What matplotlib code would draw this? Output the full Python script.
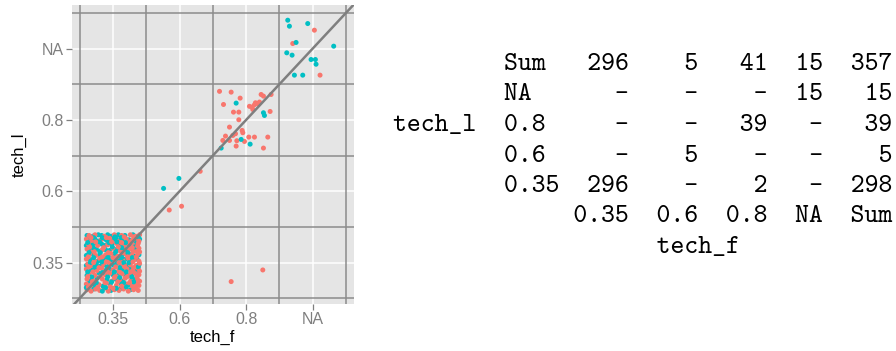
import numpy as np
import matplotlib
matplotlib.use("Agg")
import matplotlib.pyplot as plt

# categories on both axes
levels = ["0.35", "0.6", "0.8", "NA"]

# jittered points, category units (1 = 0.35, 2 = 0.6, 3 = 0.8, 4 = NA)
box_salmon = [
    (0.61, 0.62), (0.67, 0.60), (0.74, 0.63), (0.80, 0.61), (0.87, 0.64), (0.93, 0.60),
    (1.02, 0.62), (1.09, 0.61), (1.16, 0.63), (1.23, 0.60), (1.31, 0.62), (1.38, 0.61),
    (0.60, 0.70), (0.66, 0.68), (0.79, 0.69), (0.90, 0.71), (1.05, 0.68), (1.20, 0.70),
    (1.29, 0.67), (1.35, 0.70), (1.39, 0.68),
    (0.61, 0.77), (0.70, 0.75), (0.84, 0.77), (0.98, 0.74), (1.10, 0.76), (1.18, 0.78),
    (1.27, 0.75), (1.37, 0.76),
    (0.64, 0.84), (0.73, 0.82), (0.88, 0.83), (0.95, 0.85), (1.04, 0.81), (1.14, 0.84),
    (1.24, 0.82), (1.33, 0.85), (1.39, 0.83),
    (0.60, 0.91), (0.76, 0.89), (0.83, 0.92), (1.00, 0.90), (1.08, 0.88), (1.21, 0.91),
    (1.30, 0.89), (1.38, 0.92),
    (0.62, 0.98), (0.69, 0.96), (0.86, 0.97), (0.94, 0.99), (1.12, 0.95), (1.17, 0.98),
    (1.26, 0.97), (1.35, 0.96),
    (0.60, 1.05), (0.72, 1.03), (0.80, 1.06), (0.91, 1.02), (1.03, 1.05), (1.15, 1.03),
    (1.23, 1.06), (1.32, 1.04), (1.39, 1.02),
    (0.65, 1.12), (0.74, 1.10), (0.89, 1.11), (0.97, 1.13), (1.07, 1.09), (1.19, 1.12),
    (1.28, 1.10), (1.37, 1.12),
    (0.61, 1.19), (0.70, 1.17), (0.84, 1.18), (1.00, 1.20), (1.11, 1.16), (1.25, 1.19),
    (1.34, 1.17), (1.39, 1.20),
    (0.63, 1.26), (0.77, 1.24), (0.92, 1.25), (1.05, 1.27), (1.16, 1.23), (1.22, 1.26),
    (1.31, 1.24), (1.38, 1.27),
    (0.60, 1.33), (0.68, 1.31), (0.82, 1.32), (0.95, 1.34), (1.09, 1.30), (1.20, 1.33),
    (1.29, 1.31), (1.36, 1.34),
    (0.64, 1.38), (0.73, 1.39), (0.87, 1.37), (1.02, 1.39), (1.13, 1.38), (1.26, 1.39),
    (1.34, 1.37), (1.40, 1.39),
    (0.63, 0.66), (0.77, 0.65), (0.96, 0.66), (1.13, 0.67), (1.34, 0.65), (1.00, 0.64),
    (0.69, 0.73), (0.88, 0.72), (1.07, 0.73), (1.25, 0.72), (1.40, 0.74),
    (0.62, 0.80), (0.81, 0.80), (1.02, 0.79), (1.21, 0.80), (1.36, 0.80),
    (0.70, 0.87), (0.92, 0.87), (1.11, 0.86), (1.27, 0.87), (1.40, 0.88),
    (0.64, 0.94), (0.79, 0.93), (1.04, 0.94), (1.18, 0.94), (1.31, 0.93),
    (0.71, 1.00), (0.90, 1.01), (1.09, 1.00), (1.30, 1.01), (1.40, 0.99),
    (0.63, 1.08), (0.84, 1.08), (1.00, 1.07), (1.22, 1.08), (1.35, 1.08),
    (0.72, 1.15), (0.93, 1.14), (1.15, 1.14), (1.30, 1.15), (1.40, 1.15),
    (0.65, 1.22), (0.86, 1.21), (1.08, 1.22), (1.29, 1.21), (1.37, 1.23),
    (0.74, 1.29), (0.98, 1.29), (1.13, 1.28), (1.26, 1.29), (1.39, 1.30),
    (0.67, 1.35), (0.90, 1.35), (1.17, 1.36), (1.31, 1.36),
]
box_teal = [
    (0.71, 0.63), (0.97, 0.61), (1.12, 0.64), (1.26, 0.62), (0.84, 0.60),
    (0.63, 0.70), (0.72, 0.69), (0.85, 0.67), (0.96, 0.70), (1.12, 0.71), (1.24, 0.69),
    (0.65, 0.74), (0.76, 0.78), (0.91, 0.76), (1.04, 0.77), (1.14, 0.74), (1.32, 0.77),
    (0.61, 0.82), (0.79, 0.85), (1.00, 0.83), (1.09, 0.85), (1.19, 0.82), (1.29, 0.84),
    (0.67, 0.90), (0.71, 0.92), (0.89, 0.89), (0.95, 0.91), (1.14, 0.90), (1.26, 0.92),
    (1.34, 0.88),
    (0.60, 0.96), (0.75, 0.98), (0.81, 0.95), (1.00, 0.97), (1.06, 0.99), (1.22, 0.96),
    (1.39, 0.97),
    (0.66, 1.04), (0.77, 1.02), (0.86, 1.05), (0.97, 1.04), (1.09, 1.03), (1.19, 1.05),
    (1.28, 1.03), (1.36, 1.05),
    (0.60, 1.10), (0.70, 1.12), (0.80, 1.11), (0.93, 1.09), (1.02, 1.12), (1.13, 1.10),
    (1.24, 1.12), (1.33, 1.09), (1.39, 1.11),
    (0.66, 1.17), (0.75, 1.19), (0.80, 1.16), (0.89, 1.18), (0.95, 1.17), (1.06, 1.19),
    (1.17, 1.18), (1.21, 1.17), (1.30, 1.19),
    (0.60, 1.24), (0.68, 1.25), (0.72, 1.27), (0.83, 1.26), (0.88, 1.24), (0.98, 1.26),
    (1.10, 1.25), (1.27, 1.24), (1.35, 1.26),
    (0.64, 1.31), (0.73, 1.33), (0.78, 1.30), (0.88, 1.33), (0.91, 1.31), (1.00, 1.32),
    (1.05, 1.33), (1.15, 1.31), (1.24, 1.32), (1.33, 1.31), (1.40, 1.33),
    (0.61, 1.38), (0.70, 1.37), (0.78, 1.39), (0.83, 1.38), (0.92, 1.39), (0.97, 1.37),
    (1.08, 1.39), (1.18, 1.38), (1.30, 1.39),
    (0.60, 0.65), (0.89, 0.65), (1.05, 0.64), (1.20, 0.66),
    (0.75, 0.72), (0.98, 0.73), (1.16, 0.72), (1.31, 0.73),
    (0.68, 0.80), (0.92, 0.80), (1.10, 0.79), (1.28, 0.80),
    (0.62, 0.87), (0.84, 0.86), (1.02, 0.87), (1.20, 0.87),
    (0.73, 0.94), (0.91, 0.94), (1.10, 0.93), (1.38, 0.94),
    (0.66, 1.00), (0.83, 1.01), (1.16, 1.00), (1.24, 1.00),
    (0.71, 1.07), (0.92, 1.07), (1.13, 1.07), (1.29, 1.07),
    (0.64, 1.14), (0.81, 1.14), (1.04, 1.15), (1.22, 1.14),
    (0.70, 1.21), (0.99, 1.22), (1.13, 1.21), (1.33, 1.22),
    (0.62, 1.28), (0.80, 1.29), (0.94, 1.28), (1.06, 1.29), (1.19, 1.28),
    (0.71, 1.35), (0.84, 1.35), (1.03, 1.36), (1.12, 1.35), (1.38, 1.36),
]
# points outside the 0.35/0.35 box
other_salmon = [
    (2.775, 0.734), (3.25, 0.897),
    (1.845, 1.737), (2.03, 1.79), (2.31, 2.28),
    (2.60, 3.40), (2.775, 3.389), (2.91, 3.305), (2.66, 3.216), (3.225, 3.356),
    (3.26, 3.333), (3.375, 3.356), (3.125, 3.212), (3.09, 3.18), (3.175, 3.226),
    (3.10, 3.146), (3.36, 3.118), (2.81, 3.109), (2.89, 3.109), (2.89, 3.002),
    (2.75, 2.899), (2.94, 2.852), (2.95, 2.82), (2.84, 2.806), (2.80, 2.782),
    (2.69, 2.773), (2.65, 2.712), (2.75, 2.712), (2.86, 2.708), (3.04, 2.759),
    (3.125, 2.759), (2.975, 2.698), (2.85, 2.633), (3.325, 2.759), (3.26, 2.605),
    (3.14, 3.24), (3.20, 3.25), (3.05, 3.19),
    (4.025, 4.257), (3.70, 4.07), (4.11, 3.627),
]
other_teal = [
    (1.76, 2.04), (1.99, 2.18),
    (2.85, 3.235), (3.26, 3.10), (3.275, 3.062), (2.925, 2.726), (3.06, 2.66), (2.625, 2.605),
    (3.625, 4.397), (3.65, 4.313), (3.925, 4.35), (3.75, 4.085), (3.61, 3.94), (3.69, 3.907),
    (4.315, 4.033), (3.975, 3.846), (4.04, 3.846), (4.05, 3.78), (3.725, 3.627), (3.85, 3.627),
]

# cross table
row_labels = ["Sum", "NA", "0.8", "0.6", "0.35"]
col_labels = ["0.35", "0.6", "0.8", "NA", "Sum"]
counts = [
    [296, 5, 41, 15, 357],
    [None, None, None, 15, 15],
    [None, None, 39, None, 39],
    [None, 5, None, None, 5],
    [296, None, 2, None, 298],
]

SALMON = "#F8766D"
TEAL = "#00BFC4"

fig = plt.figure(figsize=(8.96, 3.51), dpi=100)
ax = fig.add_axes([71.7 / 896, 47 / 351, 282.3 / 896, 299 / 351])
ax.set_facecolor("#E5E5E5")

# interleave the two colours so neither sits fully on top
pts, cols = [], []
for i in range(max(len(box_salmon), len(box_teal))):
    if i < len(box_salmon):
        pts.append(box_salmon[i]); cols.append(SALMON)
    if i < len(box_teal):
        pts.append(box_teal[i]); cols.append(TEAL)
for p in other_salmon:
    pts.append(p); cols.append(SALMON)
for p in other_teal:
    pts.append(p); cols.append(TEAL)
pts = np.array(pts)

pos = np.arange(1, len(levels) + 1)
for v in pos:
    ax.axvline(v, color="white", lw=1.1, zorder=0.5)
    ax.axhline(v, color="white", lw=1.1, zorder=0.5)
for v in np.arange(0.5, len(levels) + 1, 1.0):
    ax.axvline(v, color="#8C8C8C", lw=1.1, zorder=1)
    ax.axhline(v, color="#8C8C8C", lw=1.1, zorder=1)

ax.scatter(pts[:, 0], pts[:, 1], s=13, c=cols, linewidths=0, zorder=2)
ax.plot([0, 5], [0, 5], color="#7F7F7F", lw=1.8, zorder=3)

ax.set_xlim(0.38, 4.62)
ax.set_ylim(0.42, 4.61)
ax.set_xticks(pos)
ax.set_xticklabels(levels)
ax.set_yticks(pos)
ax.set_yticklabels(levels)
for s in ax.spines.values():
    s.set_visible(False)
ax.tick_params(colors="#7F7F7F", labelcolor="#7F7F7F", labelsize=11.5,
               length=4, width=0.9, pad=2)
for lab in ax.get_xticklabels() + ax.get_yticklabels():
    lab.set_family("Liberation Sans")
ax.set_xlabel("tech_f", fontsize=12, family="Liberation Sans", labelpad=2)
ax.set_ylabel("tech_l", fontsize=12, family="Liberation Sans", labelpad=4)

# table as monospace lines
widths = [4, 4, 4, 3, 4]
lines = []
for lab, row in zip(row_labels, counts):
    s = lab.ljust(4)
    for v, w in zip(row, widths):
        s += " " + ("-" if v is None else str(v)).rjust(w)
    lines.append(s)
head = " " * 4
for lab, w in zip(col_labels, widths):
    head += " " + lab.rjust(w)

mono = dict(family="cmtt10", fontsize=19, color="black", va="baseline", ha="left")
x0 = 393 / 896
y0 = 70
step = 30.5
for i, s in enumerate(lines):
    prefix = "tech_l  " if i == 2 else " " * 8
    fig.text(x0, 1 - (y0 + step * i) / 351, prefix + s, **mono)
fig.text(x0, 1 - (y0 + step * 5) / 351, " " * 8 + head, **mono)
fig.text(x0, 1 - (y0 + step * 6) / 351, " " * 19 + "tech_f", **mono)

fig.savefig("out.png", dpi=100)
